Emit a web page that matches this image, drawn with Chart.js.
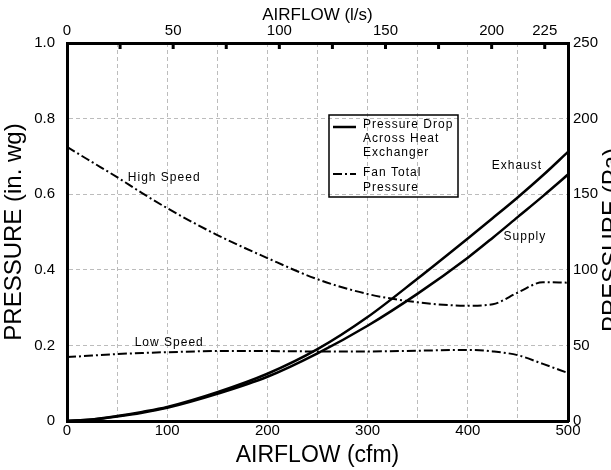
<!DOCTYPE html>
<html>
<head>
<meta charset="utf-8">
<script src="https://cdn.jsdelivr.net/npm/chart.js@4.4.0/dist/chart.umd.min.js"></script>
<style>
  html, body { margin: 0; padding: 0; background: #fff; }
  #wrap { width: 611px; height: 470px; }
</style>
</head>
<body>
<div id="wrap"><canvas id="myChart" width="611" height="470"></canvas></div>
<script>
// airflow in cfm
const airflowCfm = [0, 25, 50, 75, 100, 150, 200, 250, 300, 350, 400, 425, 450, 475, 500];

// pressure in in. wg
const exhaustDrop  = [0, 0.004, 0.013, 0.024, 0.037, 0.076, 0.125, 0.190, 0.275, 0.377, 0.483, 0.537, 0.592, 0.650, 0.712];
const supplyDrop   = [0, 0.004, 0.012, 0.022, 0.035, 0.072, 0.117, 0.179, 0.252, 0.337, 0.432, 0.485, 0.540, 0.595, 0.652];
const highSpeedFan = [0.725, 0.685, 0.645, 0.603, 0.563, 0.492, 0.431, 0.375, 0.336, 0.314, 0.305, 0.309, 0.340, 0.367, 0.366];
const lowSpeedFan  = [0.169, 0.173, 0.177, 0.180, 0.182, 0.185, 0.185, 0.184, 0.184, 0.186, 0.188, 0.184, 0.174, 0.151, 0.127];

// axis ticks
const cfmGrid = [0, 50, 100, 150, 200, 250, 300, 350, 400, 450, 500];
const cfmLabels = [0, 100, 200, 300, 400, 500];
const litreTicks = [0, 25, 50, 75, 100, 125, 150, 175, 200, 225];
const litreLabels = [0, 50, 100, 150, 200, 225];
const inwgTicks = [0, 0.2, 0.4, 0.6, 0.8, 1.0];
const pascalTicks = [0, 50, 100, 150, 200, 250];

const CFM_PER_LS = 2.119;
const FONT = '"Liberation Sans", Arial, sans-serif';

Chart.defaults.font.family = FONT;
Chart.defaults.color = '#000';

function pts(values) {
    return airflowCfm.map((x, i) => ({ x: x, y: values[i] }));
}

const dashDot = [9, 3, 2, 3];

// small inward tick marks under the top (l/s) axis
const topTicks = {
    id: 'topTicks',
    afterDraw(chart) {
        const ctx = chart.ctx;
        const sc = chart.scales.x2;
        const top = chart.chartArea.top;
        ctx.save();
        ctx.strokeStyle = '#000';
        ctx.lineWidth = 3;
        litreTicks.forEach(v => {
            if (v === 0) return;
            const px = sc.getPixelForValue(v);
            ctx.beginPath();
            ctx.moveTo(px, top);
            ctx.lineTo(px, top + 6);
            ctx.stroke();
        });
        ctx.restore();
    }
};

// boxed legend, curve labels and right axis title
const notes = {
    id: 'notes',
    afterDraw(chart) {
        const ctx = chart.ctx;
        const a = chart.chartArea;
        const xs = chart.scales.x;
        const ys = chart.scales.y;
        ctx.save();
        ctx.fillStyle = '#000';
        ctx.font = '12px ' + FONT;
        ctx.letterSpacing = '1px';
        ctx.textAlign = 'center';
        ctx.textBaseline = 'middle';
        ctx.fillText('High Speed', xs.getPixelForValue(97), ys.getPixelForValue(0.645));
        ctx.fillText('Low Speed', xs.getPixelForValue(102), ys.getPixelForValue(0.206));
        ctx.fillText('Exhaust', xs.getPixelForValue(449), ys.getPixelForValue(0.675));
        ctx.fillText('Supply', xs.getPixelForValue(457), ys.getPixelForValue(0.487));

        // legend box
        const bx = a.left + 262, by = a.top + 72, bw = 129, bh = 82;
        ctx.lineWidth = 1.5;
        ctx.strokeStyle = '#000';
        ctx.strokeRect(bx, by, bw, bh);
        ctx.textAlign = 'left';
        const tx = bx + 34;
        ['Pressure Drop', 'Across Heat', 'Exchanger'].forEach((t, i) => ctx.fillText(t, tx, by + 10 + i * 14));
        ['Fan Total', 'Pressure'].forEach((t, i) => ctx.fillText(t, tx, by + 58 + i * 15));
        ctx.lineWidth = 2.5;
        ctx.beginPath();
        ctx.moveTo(bx + 4, by + 12);
        ctx.lineTo(bx + 27, by + 12);
        ctx.stroke();
        ctx.lineWidth = 2;
        ctx.setLineDash(dashDot);
        ctx.beginPath();
        ctx.moveTo(bx + 4, by + 59);
        ctx.lineTo(bx + 27, by + 59);
        ctx.stroke();
        ctx.setLineDash([]);

        // right axis title, reads bottom to top like the left one
        ctx.letterSpacing = '0px';
        ctx.translate(600, (a.top + a.bottom) / 2 + 8);
        ctx.rotate(-Math.PI / 2);
        ctx.font = '24px ' + FONT;
        ctx.textAlign = 'center';
        ctx.textBaseline = 'top';
        ctx.fillText('PRESSURE (Pa)', 0, 0);
        ctx.restore();
    }
};

const gridStyle = { color: '#bcbcbc', lineWidth: 1, drawTicks: false };
const borderStyle = { color: '#000', width: 3, dash: [4, 3] };
const tickFont = { size: 15 };

const config = {
    type: 'line',
    data: {
        datasets: [
            { label: 'Exhaust', data: pts(exhaustDrop), borderColor: '#000', borderWidth: 2.5 },
            { label: 'Supply', data: pts(supplyDrop), borderColor: '#000', borderWidth: 2.5 },
            { label: 'High Speed', data: pts(highSpeedFan), borderColor: '#000', borderWidth: 2, borderDash: dashDot },
            { label: 'Low Speed', data: pts(lowSpeedFan), borderColor: '#000', borderWidth: 2, borderDash: dashDot }
        ]
    },
    options: {
        responsive: false,
        animation: false,
        layout: { padding: 0 },
        elements: {
            point: { radius: 0 },
            line: { cubicInterpolationMode: 'monotone', fill: false }
        },
        plugins: {
            legend: { display: false },
            tooltip: { enabled: false }
        },
        scales: {
            x: {
                type: 'linear',
                position: 'bottom',
                min: 0,
                max: 500,
                afterBuildTicks: s => { s.ticks = cfmGrid.map(v => ({ value: v })); },
                afterFit: s => { s.height = 49; },
                grid: gridStyle,
                border: borderStyle,
                ticks: {
                    font: tickFont,
                    padding: 1,
                    maxRotation: 0,
                    autoSkip: false,
                    callback: v => cfmLabels.includes(v) ? String(v) : ''
                },
                title: { display: true, text: 'AIRFLOW (cfm)', font: { size: 23 }, padding: { top: 0, bottom: 1 } }
            },
            x2: {
                type: 'linear',
                position: 'top',
                min: 0,
                max: 500 / CFM_PER_LS,
                afterBuildTicks: s => { s.ticks = litreTicks.map(v => ({ value: v })); },
                afterFit: s => { s.height = 43; },
                grid: { display: true, drawOnChartArea: false, drawTicks: false },
                border: { color: '#000', width: 3 },
                ticks: {
                    font: tickFont,
                    padding: 3,
                    maxRotation: 0,
                    autoSkip: false,
                    callback: v => litreLabels.includes(v) ? String(v) : ''
                },
                title: { display: true, text: 'AIRFLOW (l/s)', font: { size: 17 }, padding: { top: 5, bottom: 0 } }
            },
            y: {
                type: 'linear',
                position: 'left',
                min: 0,
                max: 1,
                afterBuildTicks: s => { s.ticks = inwgTicks.map(v => ({ value: v })); },
                afterFit: s => { s.width = 67; },
                grid: gridStyle,
                border: borderStyle,
                ticks: {
                    font: tickFont,
                    padding: 12,
                    callback: v => v === 0 ? '0' : v.toFixed(1)
                },
                title: { display: true, text: 'PRESSURE (in. wg)', font: { size: 24 }, padding: { top: 0, bottom: 0 } }
            },
            y2: {
                type: 'linear',
                position: 'right',
                min: 0,
                max: 250,
                afterBuildTicks: s => { s.ticks = pascalTicks.map(v => ({ value: v })); },
                afterFit: s => { s.width = 43; },
                grid: { display: true, drawOnChartArea: false, drawTicks: false },
                border: { color: '#000', width: 3 },
                ticks: { font: tickFont, padding: 5 }
            }
        }
    },
    plugins: [topTicks, notes]
};

new Chart(document.getElementById('myChart').getContext('2d'), config);
</script>
</body>
</html>
